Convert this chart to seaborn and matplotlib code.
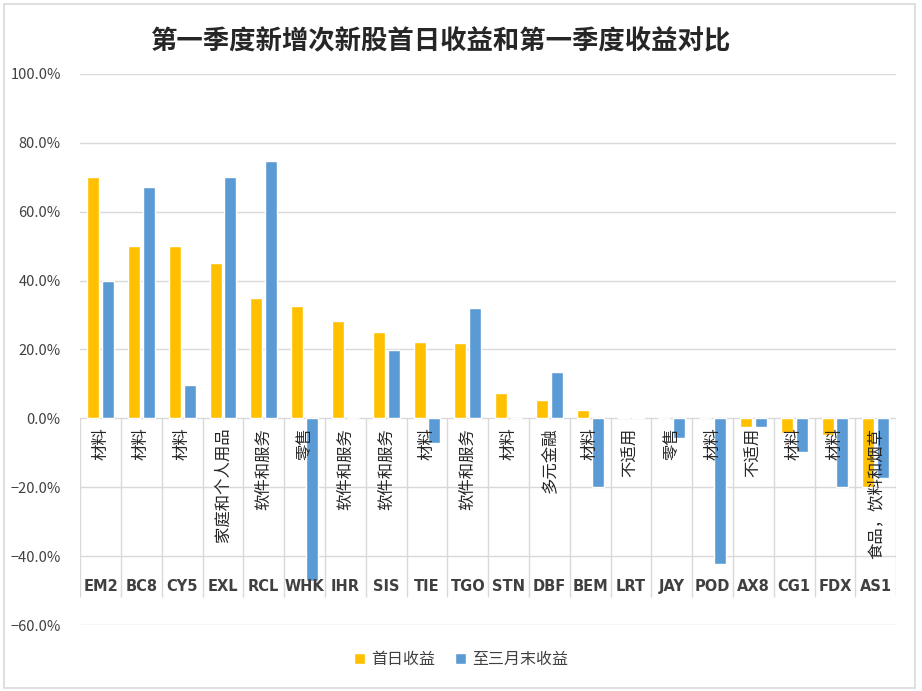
import matplotlib
matplotlib.use("Agg")
import matplotlib.pyplot as plt
from matplotlib.patches import Patch, Rectangle
from matplotlib.ticker import PercentFormatter
import numpy as np
import pandas as pd
import seaborn as sns

# data
codes = ["EM2", "BC8", "CY5", "EXL", "RCL", "WHK", "IHR", "SIS", "TIE", "TGO",
         "STN", "DBF", "BEM", "LRT", "JAY", "POD", "AX8", "CG1", "FDX", "AS1"]
sectors = ["材料", "材料", "材料", "家庭和个人用品", "软件和服务", "零售", "软件和服务",
           "软件和服务", "材料", "软件和服务", "材料", "多元金融", "材料", "不适用",
           "零售", "材料", "不适用", "材料", "材料", "食品，饮料和烟草"]
first_day = [0.700, 0.500, 0.500, 0.450, 0.348, 0.325, 0.284, 0.250, 0.223, 0.220,
             0.075, 0.052, 0.023, 0.003, 0.0, 0.0, -0.025, -0.043, -0.048, -0.200]
to_march = [0.400, 0.672, 0.097, 0.700, 0.748, -0.472, 0.0, 0.198, -0.073, 0.319,
            0.0, 0.136, -0.200, 0.003, -0.058, -0.424, -0.025, -0.099, -0.200, -0.174]
series_names = ["首日收益", "至三月末收益"]
colors = ["#FFC000", "#5B9BD5"]

sns.set_style("white")
plt.rcParams["font.family"] = ["Noto Sans CJK SC", "DejaVu Sans"]

df = pd.DataFrame({
    "code": codes * 2,
    "value": first_day + to_march,
    "series": [series_names[0]] * len(codes) + [series_names[1]] * len(codes),
})

fig = plt.figure(figsize=(9.22, 6.91), dpi=100)
ax = fig.add_axes([0.087, 0.0955, 0.885, 0.7975])

sns.barplot(data=df, x="code", y="value", hue="series", palette=colors,
            width=0.72, gap=0.18, ax=ax, legend=False, saturation=1)

ax.set_ylim(-0.6, 1.0)
ax.set_xlim(-0.5, len(codes) - 0.5)
ax.set_yticks(np.arange(-0.6, 1.01, 0.2))
ax.yaxis.set_major_formatter(PercentFormatter(1.0, decimals=1))
ax.tick_params(axis="y", labelsize=10.5, labelcolor="#404040", length=0, pad=14)
ax.set_xticks([])
ax.set_xlabel("")
ax.set_ylabel("")
ax.grid(axis="y", color="#D9D9D9", linewidth=1)
ax.set_axisbelow(True)
for s in ax.spines.values():
    s.set_visible(False)

# category separators (table-like area below zero)
ax.vlines(np.arange(len(codes) + 1) - 0.5, -0.52, 0, color="#D9D9D9", linewidth=1, zorder=0)

for i, (c, sec) in enumerate(zip(codes, sectors)):
    ax.text(i, -0.487, c, ha="center", va="center", fontsize=10.5, fontweight="bold",
            color="#404040", family=["DejaVu Sans"])
    ax.text(i, -0.027, sec, ha="center", va="top", rotation=90, fontsize=11.8,
            color="#262626", zorder=5)

fig.text(0.477, 0.939, "第一季度新增次新股首日收益和第一季度收益对比", ha="center",
         va="center", fontsize=19, fontweight="bold", color="#262626")

handles = [Patch(facecolor=c, label=n) for c, n in zip(colors, series_names)]
fig.legend(handles=handles, loc="center", bbox_to_anchor=(0.5, 0.045), ncol=2,
           frameon=False, fontsize=11.5, handlelength=0.7, handleheight=0.7,
           columnspacing=1.2, handletextpad=0.4, labelcolor="#404040")

# outer chart border
fig.patches.append(Rectangle((0.004, 0.004), 0.988, 0.99, transform=fig.transFigure,
                             fill=False, edgecolor="#D9D9D9", linewidth=1.2))

fig.savefig("out.png", dpi=100)
